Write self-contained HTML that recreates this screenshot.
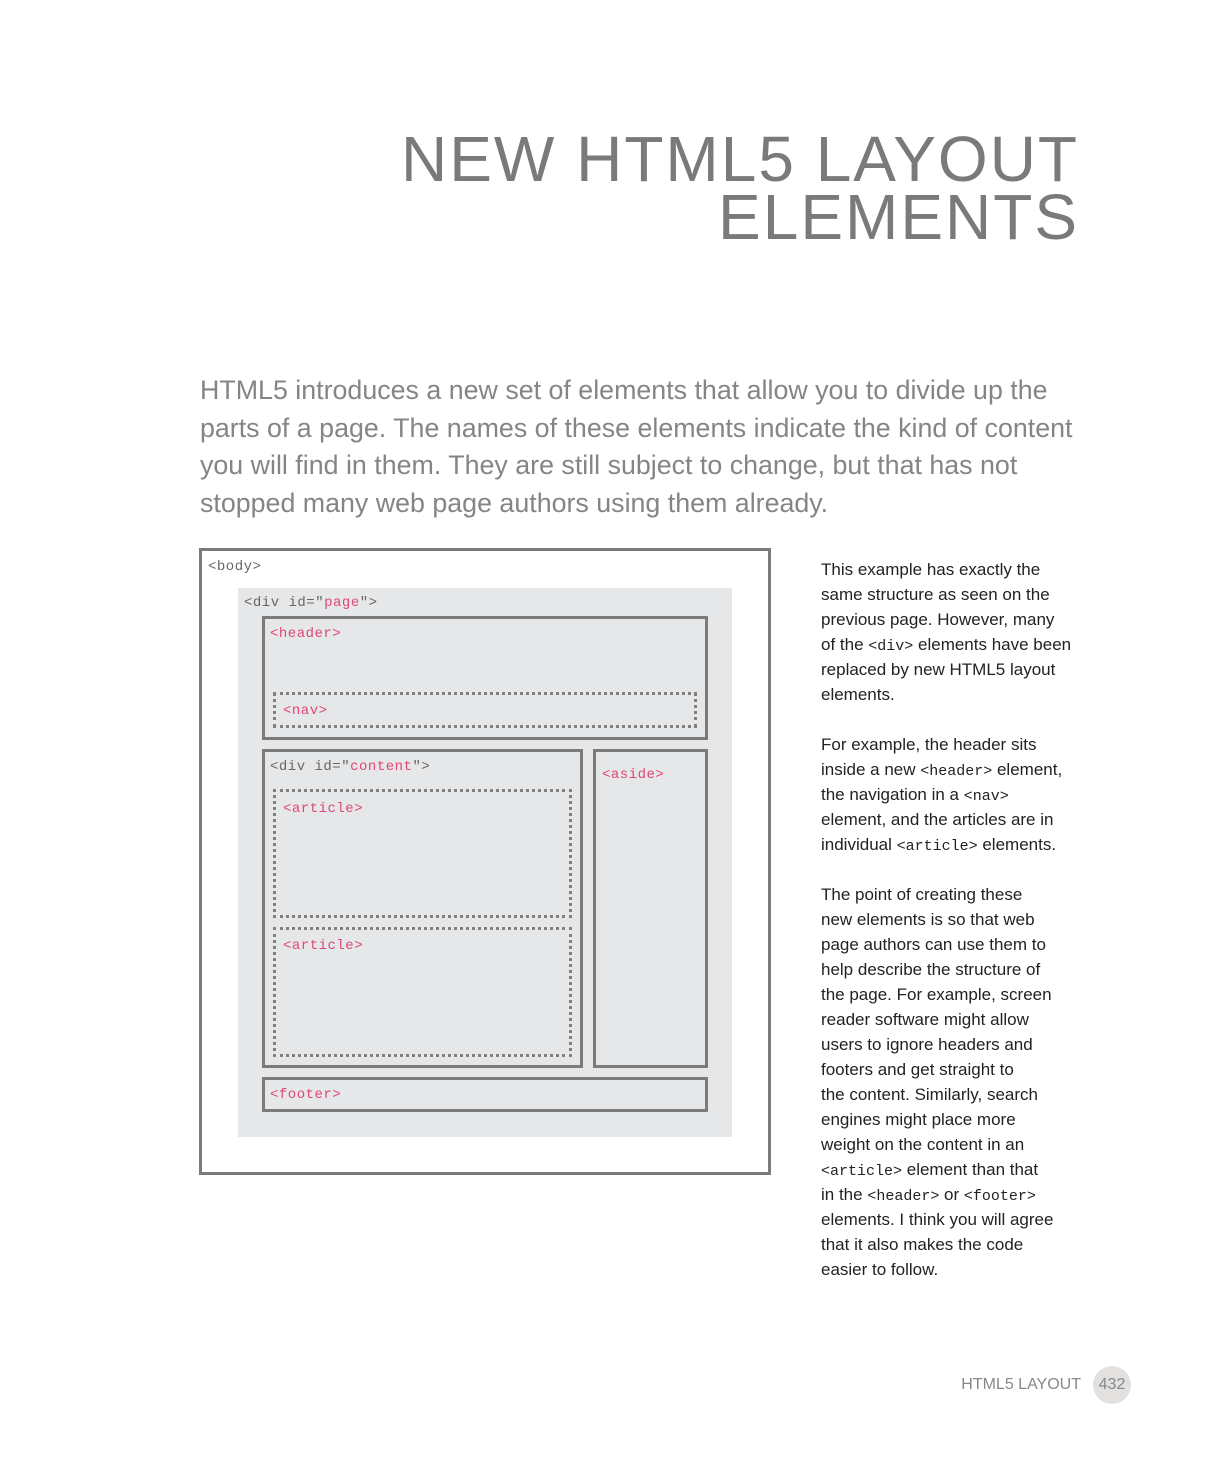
<!DOCTYPE html>
<html><head><meta charset="utf-8"><style>
body{margin:0;width:1206px;height:1478px;background:#fff;position:relative;font-family:"Liberation Sans",sans-serif;overflow:hidden}
.a{position:absolute;box-sizing:border-box}
.t{font-family:"Liberation Mono",monospace;font-size:14px;color:#666;letter-spacing:0.5px}
.p{color:#e0457b}
.solid{border:3px solid #7b7b7b}
.dot{border:3px dotted #808080}
code{font-family:"Liberation Mono",monospace;font-size:15px;line-height:0}
</style></head><body>
<div class="a" style="right:127px;top:130px;text-align:right;font-size:64px;line-height:58px;color:#7a7a7a;letter-spacing:2px">NEW HTML5 LAYOUT<br>ELEMENTS</div>
<div class="a" style="left:200px;top:372px;width:920px;font-size:26.8px;line-height:37.6px;color:#858585">HTML5 introduces a new set of elements that allow you to divide up the<br>parts of a page. The names of these elements indicate the kind of content<br>you will find in them. They are still subject to change, but that has not<br>stopped many web page authors using them already.</div>

<div class="a solid" style="left:199px;top:548px;width:572px;height:627px"></div>
<div class="a t" style="left:208px;top:559px">&lt;body&gt;</div>
<div class="a" style="left:238px;top:588px;width:494px;height:549px;background:#e6e7e8"></div>
<div class="a t" style="left:244px;top:595px">&lt;div id="<span class="p">page</span>"&gt;</div>
<div class="a solid" style="left:262px;top:616px;width:446px;height:124px"></div>
<div class="a t p" style="left:270px;top:626px">&lt;header&gt;</div>
<div class="a dot" style="left:273px;top:692px;width:424px;height:36px"></div>
<div class="a t p" style="left:283px;top:703px">&lt;nav&gt;</div>
<div class="a solid" style="left:262px;top:749px;width:321px;height:319px"></div>
<div class="a t" style="left:270px;top:759px">&lt;div id="<span class="p">content</span>"&gt;</div>
<div class="a dot" style="left:273px;top:789px;width:299px;height:129px"></div>
<div class="a t p" style="left:283px;top:801px">&lt;article&gt;</div>
<div class="a dot" style="left:273px;top:927px;width:299px;height:130px"></div>
<div class="a t p" style="left:283px;top:938px">&lt;article&gt;</div>
<div class="a solid" style="left:593px;top:749px;width:115px;height:319px"></div>
<div class="a t p" style="left:602px;top:767px">&lt;aside&gt;</div>
<div class="a solid" style="left:262px;top:1077px;width:446px;height:35px"></div>
<div class="a t p" style="left:270px;top:1087px">&lt;footer&gt;</div>

<div class="a" style="left:821px;top:557px;width:280px;font-size:17px;line-height:25px;color:#222">
This example has exactly the<br>same structure as seen on the<br>previous page. However, many<br>of the <code>&lt;div&gt;</code> elements have been<br>replaced by new HTML5 layout<br>elements.<br><br>
For example, the header sits<br>inside a new <code>&lt;header&gt;</code> element,<br>the navigation in a <code>&lt;nav&gt;</code><br>element, and the articles are in<br>individual <code>&lt;article&gt;</code> elements.<br><br>
The point of creating these<br>new elements is so that web<br>page authors can use them to<br>help describe the structure of<br>the page. For example, screen<br>reader software might allow<br>users to ignore headers and<br>footers and get straight to<br>the content. Similarly, search<br>engines might place more<br>weight on the content in an<br><code>&lt;article&gt;</code> element than that<br>in the <code>&lt;header&gt;</code> or <code>&lt;footer&gt;</code><br>elements. I think you will agree<br>that it also makes the code<br>easier to follow.</div>

<div class="a" style="right:125px;top:1376px;font-size:16px;color:#888">HTML5 LAYOUT</div>
<div class="a" style="left:1093px;top:1366px;width:38px;height:38px;border-radius:50%;background:#e2e1e0;color:#888;font-size:16px;line-height:38px;text-align:center">432</div>
</body></html>
